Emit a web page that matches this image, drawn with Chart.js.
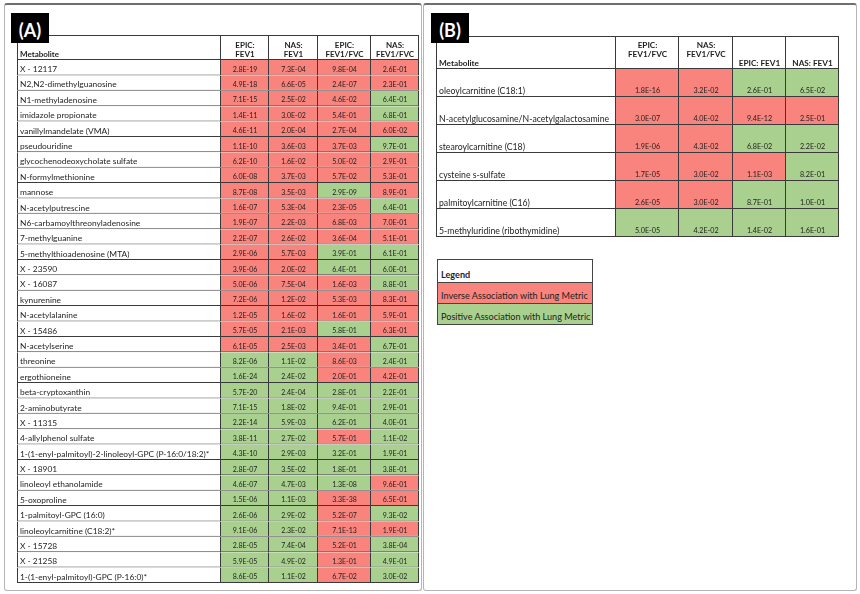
<!DOCTYPE html>
<html>
<head>
<meta charset="utf-8">
<script src="https://cdn.jsdelivr.net/npm/chart.js@4.4.0/dist/chart.umd.min.js"></script>
<style>
  html, body { margin: 0; padding: 0; background: #fff; }
  body { width: 860px; height: 594px; position: relative; overflow: hidden; font-family: Lato, 'Liberation Sans', sans-serif; }
  .frame { position: absolute; box-sizing: border-box; border: 1px solid #b4b4b4; border-top: 2px solid #6e6e6e; border-radius: 3px; }
  .box { position: absolute; }
  .tag { position: absolute; width: 38px; height: 30px; background: #000; color: #fff;
         font: bold 18px Lato, sans-serif; display: flex; align-items: flex-end; justify-content: center;
         padding-bottom: 2px; box-sizing: border-box; z-index: 2; }
  .legend { position: absolute; left: 437px; top: 259px; width: 156px; border: 1px solid #444; box-sizing: border-box;
            font: 9.1px Lato, sans-serif; color: #1e1e1e; }
  .legend div { display: flex; align-items: flex-end; padding: 0 0 2px 3px; box-sizing: border-box; white-space: nowrap; }
  .legend div + div { border-top: 1px solid #444; }
</style>
</head>
<body>
<div class="frame" style="left:4px;top:3px;width:418px;height:588px;"></div>
<div class="frame" style="left:423px;top:3px;width:434px;height:588px;"></div>

<div class="box" style="left:17px;top:35px;width:402px;height:548px;"><canvas id="tableA"></canvas></div>
<div class="box" style="left:436px;top:36px;width:403px;height:201px;"><canvas id="tableB"></canvas></div>
<div class="tag" style="left:11px;top:13px;">(A)</div>
<div class="tag" style="left:431px;top:13px;">(B)</div>

<div class="legend">
  <div id="lgHead" style="height:22px;font-weight:bold;"></div>
  <div id="lgInv" style="height:21px;"></div>
  <div id="lgPos" style="height:21px;"></div>
</div>

<script>
const RED   = '#f8847d';
const GREEN = '#a9d08e';
const LINE  = '#3a3a3a';

// ---- (A) ----
const metabolitesA = [
  'X - 12117', 'N2,N2-dimethylguanosine', 'N1-methyladenosine', 'imidazole propionate',
  'vanillylmandelate (VMA)', 'pseudouridine', 'glycochenodeoxycholate sulfate', 'N-formylmethionine',
  'mannose', 'N-acetylputrescine', 'N6-carbamoylthreonyladenosine', '7-methylguanine',
  '5-methylthioadenosine (MTA)', 'X - 23590', 'X - 16087', 'kynurenine', 'N-acetylalanine',
  'X - 15486', 'N-acetylserine', 'threonine', 'ergothioneine', 'beta-cryptoxanthin',
  '2-aminobutyrate', 'X - 11315', '4-allylphenol sulfate',
  '1-(1-enyl-palmitoyl)-2-linoleoyl-GPC (P-16:0/18:2)*', 'X - 18901', 'linoleoyl ethanolamide',
  '5-oxoproline', '1-palmitoyl-GPC (16:0)', 'linoleoylcarnitine (C18:2)*', 'X - 15728',
  'X - 21258', '1-(1-enyl-palmitoyl)-GPC (P-16:0)*'
];
const headersA = [['Metabolite'], ['EPIC:', 'FEV1'], ['NAS:', 'FEV1'], ['EPIC:', 'FEV1/FVC'], ['NAS:', 'FEV1/FVC']];

const epicFev1A = [2.8e-19, 4.9e-18, 7.1e-15, 1.4e-11, 4.6e-11, 1.1e-10, 6.2e-10, 6.0e-8, 8.7e-8, 1.6e-7,
  1.9e-7, 2.2e-7, 2.9e-6, 3.9e-6, 5.0e-6, 7.2e-6, 1.2e-5, 5.7e-5, 6.1e-5, 8.2e-6, 1.6e-24, 5.7e-20,
  7.1e-15, 2.2e-14, 3.8e-11, 4.3e-10, 2.8e-7, 4.6e-7, 1.5e-6, 2.6e-6, 9.1e-6, 2.8e-5, 5.9e-5, 8.6e-5];
const nasFev1A = [7.3e-4, 6.6e-5, 2.5e-2, 3.0e-2, 2.0e-4, 3.6e-3, 1.6e-2, 3.7e-3, 3.5e-3, 5.3e-4,
  2.2e-3, 2.6e-2, 5.7e-3, 2.0e-2, 7.5e-4, 1.2e-2, 1.6e-2, 2.1e-3, 2.5e-3, 1.1e-2, 2.4e-2, 2.4e-4,
  1.8e-2, 5.9e-3, 2.7e-2, 2.9e-3, 3.5e-2, 4.7e-3, 1.1e-3, 2.9e-2, 2.3e-2, 7.4e-4, 4.9e-2, 1.1e-2];
const epicRatioA = [9.8e-4, 2.4e-7, 4.6e-2, 5.4e-1, 2.7e-4, 3.7e-3, 5.0e-2, 5.7e-2, 2.9e-9, 2.3e-5,
  6.8e-3, 3.6e-4, 3.9e-1, 6.4e-1, 1.6e-3, 5.3e-3, 1.6e-1, 5.8e-1, 3.4e-1, 8.6e-3, 2.0e-1, 2.8e-1,
  9.4e-1, 6.2e-1, 5.7e-1, 3.2e-1, 1.8e-1, 1.3e-8, 3.3e-38, 5.2e-7, 7.1e-13, 5.2e-1, 1.3e-1, 6.7e-2];
const nasRatioA = [2.6e-1, 2.3e-1, 6.4e-1, 6.8e-1, 6.0e-2, 9.7e-1, 2.9e-1, 5.3e-1, 8.9e-1, 6.4e-1,
  7.0e-1, 5.1e-1, 6.1e-1, 6.0e-1, 8.8e-1, 8.3e-1, 5.9e-1, 6.3e-1, 6.7e-1, 2.4e-1, 4.2e-1, 2.2e-1,
  2.9e-1, 4.0e-1, 1.1e-2, 1.9e-1, 3.8e-1, 9.6e-1, 6.5e-1, 9.3e-2, 1.9e-1, 3.8e-4, 4.9e-1, 3.0e-2];

// direction of association: -1 inverse (red), 1 positive (green)
const epicFev1DirA = [-1,-1,-1,-1,-1,-1,-1,-1,-1,-1, -1,-1,-1,-1,-1,-1,-1,-1,-1, 1, 1,1,1,1,1,1,1,1,1,1, 1,1,1,1];
const nasFev1DirA  = [-1,-1,-1,-1,-1,-1,-1,-1,-1,-1, -1,-1,-1,-1,-1,-1,-1,-1,-1, 1, 1,1,1,1,1,1,1,1,1,1, 1,1,1,1];
const epicRatioDirA = [-1,-1,-1,-1,-1,-1,-1,-1,1,-1, -1,-1,1,1,-1,-1,-1,1,-1,-1, -1,1,1,1,-1,1,1,1,-1,-1, -1,-1,-1,-1];
const nasRatioDirA  = [-1,-1,1,1,-1,1,-1,-1,-1,1, -1,-1,1,1,1,-1,-1,-1,1,1, -1,1,1,1,1,1,1,-1,-1,1, -1,1,1,1];

// ---- (B) ----
const metabolitesB = ['oleoylcarnitine (C18:1)', 'N-acetylglucosamine/N-acetylgalactosamine',
  'stearoylcarnitine (C18)', 'cysteine s-sulfate', 'palmitoylcarnitine (C16)', '5-methyluridine (ribothymidine)'];
const headersB = [['Metabolite'], ['EPIC:', 'FEV1/FVC', ''], ['NAS:', 'FEV1/FVC', ''], ['EPIC: FEV1'], ['NAS: FEV1']];

const epicRatioB = [1.8e-16, 3.0e-7, 1.9e-6, 1.7e-5, 2.6e-5, 5.0e-5];
const nasRatioB  = [3.2e-2, 4.0e-2, 4.3e-2, 3.0e-2, 3.0e-2, 4.2e-2];
const epicFev1B  = [2.6e-1, 9.4e-12, 6.8e-2, 1.1e-3, 8.7e-1, 1.4e-2];
const nasFev1B   = [6.5e-2, 2.5e-1, 2.2e-2, 8.2e-1, 1.0e-1, 1.6e-1];
const epicRatioDirB = [-1, -1, -1, -1, -1, 1];
const nasRatioDirB  = [-1, -1, -1, -1, -1, 1];
const epicFev1DirB  = [1, -1, 1, -1, 1, 1];
const nasFev1DirB   = [1, -1, 1, 1, 1, 1];

const legendLabels = ['Legend', 'Inverse Association with Lung Metric', 'Positive Association with Lung Metric'];

function fmtP(p) {
  return p.toExponential(1).replace(/e([+-])(\d)$/, 'e$10$2').toUpperCase();
}

// writes the text of every cell at the position of its bar
const cellText = {
  id: 'cellText',
  afterDatasetsDraw(chart, args, opts) {
    const ctx = chart.ctx;
    ctx.save();
    ctx.fillStyle = '#1e1e1e';
    ctx.textBaseline = 'middle';
    chart.data.datasets.forEach((ds, di) => {
      chart.getDatasetMeta(di).data.forEach((el, i) => {
        const cell = ds.data[i];
        const { x, y, base, height } = el.getProps(['x', 'y', 'base', 'height'], true);
        const left = Math.min(x, base), right = Math.max(x, base);
        const bottom = y + height / 2;
        ctx.font = opts.fonts[cell.kind];
        ctx.textAlign = cell.c === 0 ? 'left' : 'center';
        const tx = cell.c === 0 ? left + opts.padX : (left + right) / 2;
        cell.t.forEach((line, j) => {
          ctx.fillText(line, tx, bottom - opts.padY - (cell.t.length - 1 - j) * opts.lineH);
        });
      });
    });
    ctx.restore();
  }
};

function tableChart(id, o) {
  const n = o.names.length;
  const rowPx = (o.height - o.headerH) / n;
  const hUnits = o.headerH / rowPx;

  const head = o.headers.map((h, c) => ({ y: -hUnits / 2, x: [o.edges[c], o.edges[c + 1]], c, t: h, kind: 'head' }));
  const body = [];
  o.names.forEach((name, r) => {
    body.push({ y: r + 0.5, x: [o.edges[0], o.edges[1]], c: 0, t: [name], kind: 'name' });
    o.cols.forEach((col, k) => {
      body.push({ y: r + 0.5, x: [o.edges[k + 1], o.edges[k + 2]], c: k + 1,
                  t: [fmtP(col.p[r])], d: col.dir[r], kind: 'val' });
    });
  });

  const common = {
    grouped: false,
    borderColor: LINE,
    borderSkipped: false,
    inflateAmount: 0,
    barPercentage: 1,
    categoryPercentage: 1
  };

  return new Chart(document.getElementById(id), {
    type: 'bar',
    data: {
      datasets: [
        Object.assign({
          data: head,
          barThickness: o.headerH,
          backgroundColor: '#ffffff',
          borderWidth: ctx => ({ top: 1, right: 1, bottom: 1, left: ctx.raw.c === 0 ? 1 : 0 })
        }, common),
        Object.assign({
          data: body,
          backgroundColor: ctx => ctx.raw.c === 0 ? '#ffffff' : (ctx.raw.d < 0 ? RED : GREEN),
          borderWidth: ctx => ({ top: 0, right: 1, bottom: 1, left: ctx.raw.c === 0 ? 1 : 0 })
        }, common)
      ]
    },
    options: {
      indexAxis: 'y',
      responsive: true,
      maintainAspectRatio: false,
      animation: false,
      events: [],
      layout: { padding: 0 },
      scales: {
        x: { type: 'linear', display: false, offset: false,
             min: o.edges[0], max: o.edges[o.edges.length - 1] },
        y: {
          type: 'linear', display: false, offset: false, grid: { offset: false },
          reverse: true, min: -hUnits, max: n,
          afterBuildTicks: s => { s.ticks = o.names.map((_, r) => ({ value: r + 0.5 })); }
        }
      },
      plugins: {
        legend: { display: false },
        tooltip: { enabled: false },
        cellText: o.text
      }
    },
    plugins: [cellText]
  });
}

tableChart('tableA', {
  names: metabolitesA,
  headers: headersA,
  cols: [
    { p: epicFev1A, dir: epicFev1DirA },
    { p: nasFev1A, dir: nasFev1DirA },
    { p: epicRatioA, dir: epicRatioDirA },
    { p: nasRatioA, dir: nasRatioDirA }
  ],
  edges: [0, 204, 252, 301, 354, 402],
  height: 548,
  headerH: 25,
  text: { fonts: { name: '8.4px Lato', val: '7px Lato', head: 'bold 8px Lato' }, padX: 3, padY: 6, lineH: 9 }
});

tableChart('tableB', {
  names: metabolitesB,
  headers: headersB,
  cols: [
    { p: epicRatioB, dir: epicRatioDirB },
    { p: nasRatioB, dir: nasRatioDirB },
    { p: epicFev1B, dir: epicFev1DirB },
    { p: nasFev1B, dir: nasFev1DirB }
  ],
  edges: [0, 180, 243, 297, 350, 403],
  height: 201,
  headerH: 33,
  text: { fonts: { name: '8.7px Lato', val: '7.2px Lato', head: 'bold 8.2px Lato' }, padX: 3, padY: 6, lineH: 9 }
});

document.getElementById('lgHead').textContent = legendLabels[0];
document.getElementById('lgInv').textContent = legendLabels[1];
document.getElementById('lgPos').textContent = legendLabels[2];
document.getElementById('lgInv').style.background = RED;
document.getElementById('lgPos').style.background = GREEN;
</script>
</body>
</html>
